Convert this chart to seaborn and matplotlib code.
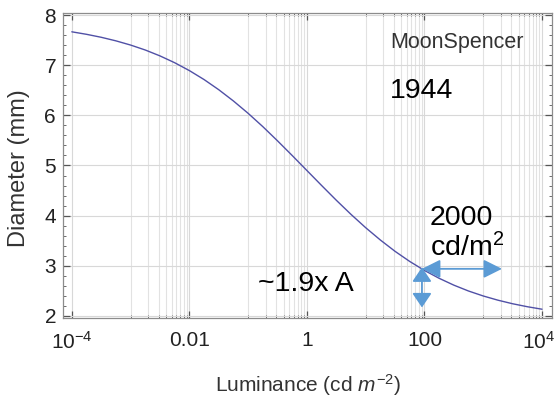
import matplotlib
matplotlib.use("Agg")
import matplotlib.pyplot as plt
import matplotlib.transforms as mtransforms
import seaborn as sns
import pandas as pd

# Data (luminance in cd/m^2, pupil diameter in mm)
luminance = [0.0001, 0.000178, 0.000316, 0.000562, 0.001, 0.00178, 0.00316, 0.00562,
             0.01, 0.0178, 0.0316, 0.0562, 0.1, 0.178, 0.316, 0.562,
             1.0, 1.78, 3.16, 5.62, 10.0, 17.8, 31.6, 56.2,
             100.0, 178.0, 316.0, 562.0, 1000.0, 1780.0, 3160.0, 5620.0, 10000.0]
diameter = [7.665, 7.615, 7.556, 7.485, 7.401, 7.302, 7.185, 7.049,
            6.892, 6.713, 6.511, 6.286, 6.040, 5.774, 5.492, 5.199,
            4.900, 4.601, 4.308, 4.026, 3.760, 3.514, 3.289, 3.087,
            2.908, 2.751, 2.615, 2.498, 2.399, 2.315, 2.244, 2.185, 2.135]

x_major = [1e-4, 1e-2, 1, 1e2, 1e4]
x_major_labels = [r"$10^{-4}$", "0.01", "1", "100", r"$10^{4}$"]
x_minor = [k * 10.0 ** e for e in (-3, -1, 1, 3) for k in range(1, 10)]
y_major = [2, 3, 4, 5, 6, 7, 8]
y_minor = [2 + 0.2 * i for i in range(31)]

df = pd.DataFrame({"Luminance": luminance, "Diameter": diameter})

sns.set_theme(style="white")
plt.rcParams["font.family"] = ["Liberation Sans", "DejaVu Sans"]
plt.rcParams["mathtext.fontset"] = "custom"
plt.rcParams["mathtext.rm"] = "Liberation Sans"
plt.rcParams["mathtext.it"] = "Liberation Sans:italic"
plt.rcParams["mathtext.bf"] = "Liberation Sans:bold"

fig = plt.figure(figsize=(5.57, 3.99), dpi=100)
ax = fig.add_axes([63 / 557, 1 - 318 / 399, (552 - 63) / 557, (318 - 13) / 399])

sns.lineplot(data=df, x="Luminance", y="Diameter", ax=ax, color="#5050a6",
             linewidth=1.0, estimator=None, sort=False, zorder=3)

ax.set_xscale("log")
ax.set_xlim(10 ** -4.15, 10 ** 4.17)
ax.set_ylim(1.96, 8.04)

ax.set_xticks(x_major)
ax.set_xticklabels(x_major_labels)
ax.set_xticks(x_minor, minor=True)
ax.set_xticklabels([], minor=True)
ax.set_yticks(y_major)
ax.set_yticks(y_minor, minor=True)

ax.grid(True, which="major", axis="x", color="#d8d8d8", linewidth=0.8, zorder=0)
ax.grid(True, which="minor", axis="x", color="#e2e2e2", linewidth=0.8, zorder=0)
ax.grid(True, which="major", axis="y", color="#d8d8d8", linewidth=0.8, zorder=0)

for sp in ax.spines.values():
    sp.set_color("#8c8c8c")
    sp.set_linewidth(0.9)

ax.tick_params(which="both", direction="in", top=True, right=True,
               bottom=True, left=True, color="#555555")
ax.tick_params(which="major", length=5, width=0.9, labelsize=15,
               labelcolor="#222222")
ax.tick_params(which="minor", length=2.5, width=0.6)
ax.tick_params(axis="x", which="major", pad=9)
ax.tick_params(axis="y", which="major", pad=5)

# keep the last x tick label inside the figure
last = ax.get_xticklabels()[-1]
last.set_transform(last.get_transform() +
                   mtransforms.ScaledTranslation(-3 / 100, 0, fig.dpi_scale_trans))

ax.set_xlabel(r"Luminance (cd $m^{-2}$)", fontsize=15, color="#333333")
ax.set_ylabel("Diameter (mm)", fontsize=17, color="#333333")
ax.xaxis.label.set_va("center")
ax.yaxis.label.set_va("center")
ax.xaxis.set_label_coords(0.5, -(385 - 318) / 305)
ax.yaxis.set_label_coords(-(63 - 19) / 489, 1 - (168 - 13) / 305)

# annotations
ax.text(25.9, 7.46, "MoonSpencer", fontsize=15.5, color="#333333",
        ha="left", va="center")
ax.text(25.9, 6.49, "1944", fontsize=20.5, color="black", ha="left", va="center")
ax.text(124, 3.82, "2000", fontsize=20.5, color="black", ha="left", va="baseline")
ax.text(124, 3.18, r"cd/m$^{2}$", fontsize=20.5, color="black", ha="left", va="baseline")
ax.text(0.1466, 2.50, "~1.9x A", fontsize=20.5, color="black", ha="left", va="baseline")

arrow_color = "#5b9bd5"
ax.annotate("", xy=(90.6, 2.94), xytext=(2085, 2.94),
            arrowprops=dict(arrowstyle="<|-|>,head_length=0.8,head_width=0.4",
                            color=arrow_color, lw=1.3,
                            shrinkA=0, shrinkB=0, mutation_scale=14), zorder=4)
ax.annotate("", xy=(90.6, 2.97), xytext=(90.6, 2.17),
            arrowprops=dict(arrowstyle="<|-|>,head_length=0.62,head_width=0.42",
                            color=arrow_color, lw=1.3,
                            shrinkA=0, shrinkB=0, mutation_scale=14), zorder=4)

fig.savefig("out.png", dpi=100)
